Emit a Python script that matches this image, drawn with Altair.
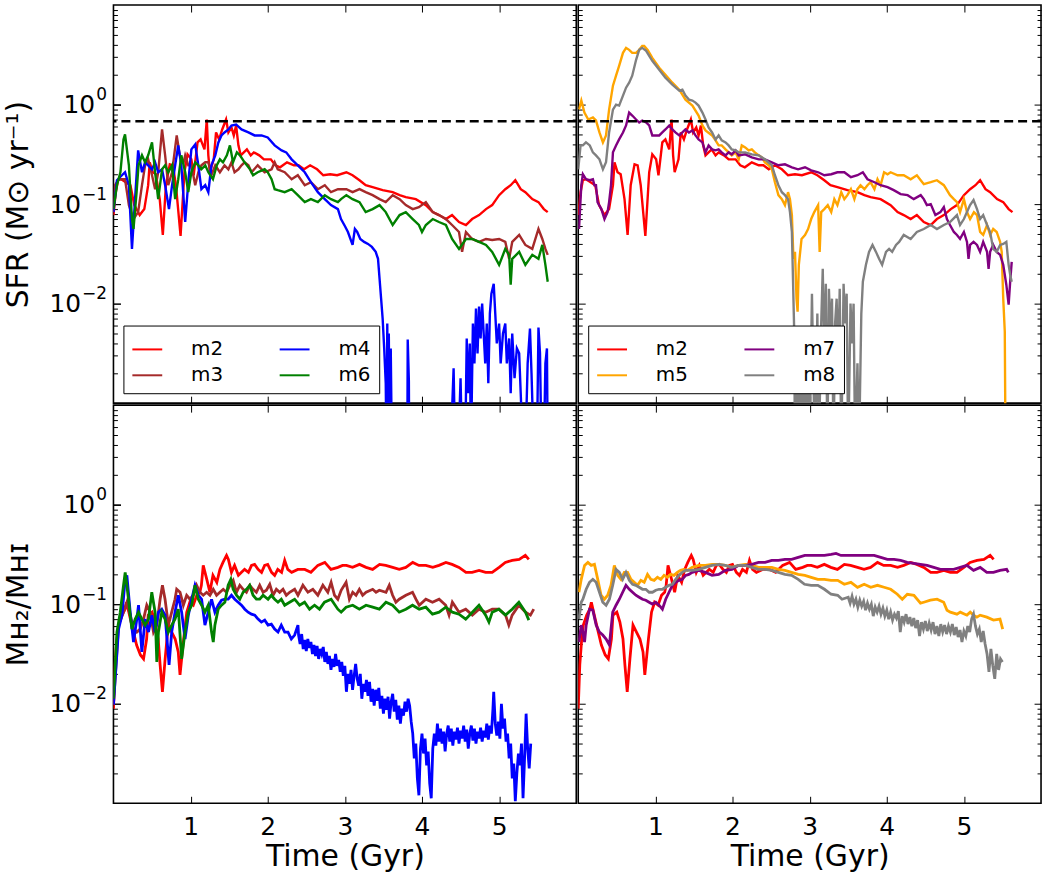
import altair as alt
import pandas as pd

# ---------------------------------------------------------------------------
# Values: (time [Gyr], log10 of the plotted quantity)
# ---------------------------------------------------------------------------
m2_sfr_log = [(0.00,-1.11),(0.03,-0.88),(0.06,-0.76),(0.10,-0.75),(0.16,-0.78),(0.22,-0.81),(0.27,-1.01),(0.34,-1.11),(0.40,-1.05),(0.45,-0.81),(0.47,-0.58),(0.51,-0.68),(0.55,-0.70),(0.60,-0.95),(0.64,-1.31),(0.68,-0.81),(0.73,-0.60),(0.77,-0.61),(0.81,-0.81),(0.87,-1.32),(0.92,-0.68),(0.96,-0.50),(1.01,-0.55),(1.04,-0.71),(1.09,-0.38),(1.13,-0.35),(1.18,-0.45),(1.21,-0.15),(1.23,-0.51),(1.25,-0.68),(1.30,-0.55),(1.33,-0.28),(1.37,-0.35),(1.41,-0.25),(1.46,-0.15),(1.49,-0.28),(1.53,-0.23),(1.56,-0.31),(1.59,-0.21),(1.62,-0.41),(1.65,-0.51),(1.69,-0.48),(1.73,-0.45),(1.78,-0.51),(1.82,-0.48),(1.89,-0.51),(1.95,-0.55),(2.04,-0.55),(2.10,-0.61),(2.16,-0.63),(2.25,-0.58),(2.34,-0.61),(2.40,-0.61),(2.47,-0.65),(2.55,-0.61),(2.64,-0.65),(2.72,-0.71),(2.81,-0.70),(2.90,-0.71),(3.02,-0.68),(3.10,-0.71),(3.19,-0.76),(3.27,-0.81),(3.36,-0.83),(3.49,-0.86),(3.62,-0.88),(3.71,-0.91),(3.79,-0.93),(3.92,-0.95),(4.05,-1.01),(4.14,-1.08),(4.22,-1.11),(4.31,-1.15),(4.39,-1.11),(4.48,-1.18),(4.57,-1.21),(4.65,-1.15),(4.74,-1.11),(4.83,-1.05),(4.91,-1.01),(5.00,-0.91),(5.08,-0.85),(5.15,-0.81),(5.21,-0.76),(5.28,-0.85),(5.34,-0.88),(5.43,-0.95),(5.51,-0.98),(5.58,-1.05),(5.63,-1.08)]

m3_sfr_log = [(0.00,-1.08),(0.02,-0.81),(0.07,-0.75),(0.15,-0.75),(0.20,-1.01),(0.26,-1.15),(0.32,-1.08),(0.37,-0.81),(0.41,-0.61),(0.45,-0.55),(0.50,-0.71),(0.54,-0.85),(0.58,-0.68),(0.63,-0.25),(0.67,-0.51),(0.71,-0.81),(0.76,-0.68),(0.82,-0.31),(0.86,-0.51),(0.91,-0.58),(0.93,-0.51),(0.97,-0.61),(1.01,-0.61),(1.06,-0.81),(1.10,-0.68),(1.14,-0.61),(1.19,-0.58),(1.23,-0.58),(1.27,-0.71),(1.32,-0.61),(1.38,-0.68),(1.44,-0.61),(1.49,-0.65),(1.53,-0.58),(1.57,-0.68),(1.62,-0.65),(1.66,-0.61),(1.70,-0.58),(1.75,-0.61),(1.79,-0.68),(1.87,-0.61),(1.96,-0.68),(2.05,-0.65),(2.09,-0.58),(2.13,-0.65),(2.22,-0.68),(2.31,-0.75),(2.39,-0.71),(2.48,-0.81),(2.56,-0.78),(2.65,-0.85),(2.74,-0.81),(2.82,-0.88),(2.91,-0.85),(3.02,-0.85),(3.10,-0.88),(3.19,-0.85),(3.27,-0.88),(3.36,-0.91),(3.45,-0.95),(3.53,-0.98),(3.62,-0.91),(3.71,-0.95),(3.79,-1.01),(3.88,-1.05),(3.96,-1.03),(4.05,-0.98),(4.14,-1.08),(4.22,-1.11),(4.31,-1.15),(4.39,-1.21),(4.48,-1.28),(4.52,-1.48),(4.57,-1.28),(4.65,-1.35),(4.74,-1.38),(4.83,-1.35),(4.91,-1.36),(5.00,-1.35),(5.08,-1.38),(5.13,-1.55),(5.17,-1.38),(5.26,-1.31),(5.34,-1.41),(5.43,-1.45),(5.51,-1.25),(5.56,-1.35),(5.60,-1.45),(5.63,-1.51)]

m4_sfr_log = [(0.00,-1.08),(0.045,-0.76),(0.11,-0.71),(0.15,-0.68),(0.20,-0.81),(0.24,-1.45),(0.28,-0.95),(0.32,-0.46),(0.37,-0.68),(0.41,-0.58),(0.45,-0.61),(0.50,-0.65),(0.54,-0.58),(0.58,-0.68),(0.63,-0.65),(0.67,-0.81),(0.72,-1.05),(0.76,-0.81),(0.80,-0.61),(0.84,-0.41),(0.88,-0.61),(0.93,-1.18),(0.97,-0.78),(1.01,-0.45),(1.06,-0.40),(1.10,-0.61),(1.14,-0.85),(1.19,-0.81),(1.23,-0.88),(1.27,-0.61),(1.32,-0.51),(1.36,-0.38),(1.40,-0.31),(1.44,-0.28),(1.49,-0.25),(1.53,-0.21),(1.59,-0.20),(1.66,-0.25),(1.75,-0.28),(1.83,-0.31),(1.92,-0.31),(2.00,-0.33),(2.09,-0.41),(2.18,-0.46),(2.24,-0.48),(2.31,-0.55),(2.39,-0.61),(2.48,-0.68),(2.56,-0.78),(2.65,-0.88),(2.74,-0.95),(2.82,-1.01),(2.91,-1.05),(2.95,-1.15),(3.00,-1.22),(3.04,-1.28),(3.10,-1.41),(3.13,-1.25),(3.16,-1.28),(3.20,-1.35),(3.25,-1.38),(3.30,-1.40),(3.35,-1.43),(3.40,-1.48),(3.43,-1.55),(3.45,-1.75),(3.47,-1.95),(3.49,-2.15),(3.51,-2.45),(3.53,-2.80),(3.54,-3.50),(3.55,-2.20),(3.56,-3.50),(3.57,-2.30),(3.58,-3.50),(3.595,-2.45),(3.61,-3.50),(3.81,-3.50),(3.815,-2.36),(3.83,-2.78),(3.835,-3.50),(4.37,-3.50),(4.41,-2.65),(4.43,-3.50),(4.47,-3.50),(4.50,-2.75),(4.52,-3.50),(4.56,-3.50),(4.58,-2.35),(4.60,-2.90),(4.62,-2.40),(4.635,-3.50),(4.66,-2.20),(4.68,-2.60),(4.70,-2.05),(4.72,-2.50),(4.74,-2.03),(4.76,-2.35),(4.78,-2.00),(4.80,-2.30),(4.82,-2.60),(4.84,-2.20),(4.86,-2.80),(4.88,-2.10),(4.90,-1.90),(4.93,-1.80),(4.95,-2.10),(4.97,-2.40),(5.00,-2.20),(5.02,-2.60),(5.05,-2.30),(5.08,-2.20),(5.10,-2.60),(5.13,-2.35),(5.15,-2.90),(5.17,-2.30),(5.20,-2.75),(5.23,-2.45),(5.26,-2.50),(5.28,-2.90),(5.31,-3.50),(5.34,-3.50),(5.37,-2.60),(5.40,-2.25),(5.42,-2.70),(5.45,-3.50),(5.49,-3.50),(5.51,-2.24),(5.53,-2.50),(5.55,-3.50),(5.58,-3.50),(5.60,-2.60),(5.62,-2.45),(5.63,-3.50)]

m6_sfr_log = [(0.00,-1.05),(0.045,-0.81),(0.09,-0.68),(0.13,-0.35),(0.15,-0.30),(0.20,-0.61),(0.24,-1.15),(0.26,-1.25),(0.30,-0.88),(0.325,-0.61),(0.37,-0.51),(0.41,-0.58),(0.45,-0.51),(0.50,-0.38),(0.54,-0.68),(0.58,-0.95),(0.63,-0.65),(0.67,-0.61),(0.71,-0.68),(0.76,-0.61),(0.80,-0.95),(0.84,-0.75),(0.88,-0.51),(0.93,-0.68),(0.97,-0.88),(1.01,-0.68),(1.06,-0.58),(1.10,-0.61),(1.14,-0.65),(1.19,-0.61),(1.23,-0.68),(1.29,-0.75),(1.34,-0.61),(1.38,-0.55),(1.42,-0.58),(1.47,-0.51),(1.51,-0.41),(1.55,-0.58),(1.60,-0.48),(1.64,-0.51),(1.70,-0.58),(1.77,-0.65),(1.81,-0.71),(1.87,-0.68),(1.96,-0.65),(2.00,-0.68),(2.05,-0.75),(2.09,-0.85),(2.13,-0.86),(2.22,-0.88),(2.31,-0.85),(2.39,-0.91),(2.48,-0.98),(2.56,-0.95),(2.65,-0.98),(2.74,-0.91),(2.82,-0.95),(2.91,-0.98),(2.95,-0.95),(3.02,-0.91),(3.10,-0.95),(3.19,-0.98),(3.27,-1.08),(3.36,-1.05),(3.45,-1.01),(3.53,-1.08),(3.62,-1.21),(3.71,-1.11),(3.79,-1.08),(3.88,-1.15),(3.96,-1.21),(4.00,-1.28),(4.05,-1.21),(4.14,-1.15),(4.22,-1.18),(4.31,-1.21),(4.39,-1.35),(4.48,-1.45),(4.57,-1.35),(4.65,-1.35),(4.74,-1.38),(4.83,-1.41),(4.91,-1.48),(5.00,-1.61),(5.08,-1.45),(5.13,-1.51),(5.15,-1.81),(5.17,-1.55),(5.26,-1.48),(5.34,-1.61),(5.43,-1.51),(5.51,-1.55),(5.56,-1.41),(5.60,-1.61),(5.63,-1.78)]

m5_sfr_log = [(0.01,-0.05),(0.04,0.04),(0.08,-0.08),(0.13,-0.15),(0.19,-0.13),(0.23,-0.16),(0.275,-0.28),(0.32,-0.38),(0.36,-0.31),(0.40,-0.05),(0.45,0.19),(0.49,0.29),(0.53,0.39),(0.58,0.52),(0.62,0.57),(0.66,0.55),(0.70,0.52),(0.75,0.52),(0.79,0.55),(0.83,0.59),(0.855,0.59),(0.90,0.55),(0.96,0.47),(1.05,0.37),(1.13,0.30),(1.22,0.22),(1.31,0.15),(1.39,0.05),(1.48,-0.01),(1.56,-0.11),(1.61,-0.21),(1.65,-0.26),(1.735,-0.31),(1.78,-0.36),(1.82,-0.41),(1.86,-0.41),(1.91,-0.45),(1.95,-0.48),(1.99,-0.51),(2.04,-0.48),(2.08,-0.55),(2.12,-0.41),(2.165,-0.43),(2.21,-0.46),(2.25,-0.45),(2.29,-0.48),(2.34,-0.51),(2.38,-0.53),(2.42,-0.58),(2.47,-0.61),(2.51,-0.65),(2.55,-0.78),(2.595,-0.91),(2.64,-0.95),(2.68,-1.01),(2.72,-0.88),(2.745,-0.95),(2.77,-1.11),(2.79,-1.55),(2.81,-1.48),(2.83,-1.95),(2.844,-2.08),(2.86,-1.61),(2.895,-1.35),(2.94,-1.31),(2.98,-1.25),(3.02,-1.15),(3.06,-1.08),(3.11,-1.01),(3.13,-1.48),(3.15,-1.08),(3.19,-1.05),(3.235,-1.01),(3.28,-1.08),(3.32,-0.95),(3.36,-1.01),(3.41,-0.88),(3.45,-0.95),(3.49,-0.91),(3.535,-0.85),(3.58,-0.95),(3.62,-0.85),(3.66,-0.81),(3.71,-0.85),(3.75,-0.81),(3.79,-0.78),(3.84,-0.85),(3.88,-0.75),(3.92,-0.81),(3.965,-0.68),(4.01,-0.70),(4.05,-0.68),(4.14,-0.71),(4.22,-0.71),(4.31,-0.75),(4.39,-0.71),(4.44,-0.76),(4.48,-0.80),(4.57,-0.78),(4.65,-0.76),(4.74,-0.81),(4.82,-0.91),(4.87,-0.95),(4.91,-0.98),(4.95,-1.08),(5.00,-0.95),(5.04,-1.08),(5.08,-1.15),(5.13,-1.08),(5.17,-1.11),(5.21,-1.28),(5.25,-1.31),(5.30,-1.21),(5.34,-1.31),(5.38,-1.25),(5.425,-1.28),(5.47,-1.38),(5.49,-1.48),(5.51,-1.95),(5.53,-2.28),(5.54,-3.50),(5.60,-3.50)]

m7_sfr_log = [(0.01,-1.25),(0.04,-0.81),(0.06,-0.70),(0.10,-0.75),(0.15,-0.76),(0.19,-0.75),(0.21,-0.81),(0.23,-0.81),(0.25,-0.98),(0.30,-1.05),(0.34,-1.15),(0.38,-1.08),(0.40,-0.98),(0.425,-0.81),(0.45,-0.48),(0.49,-0.41),(0.53,-0.35),(0.58,-0.28),(0.62,-0.21),(0.66,-0.08),(0.70,-0.11),(0.75,-0.15),(0.79,-0.18),(0.83,-0.16),(0.88,-0.18),(0.92,-0.21),(0.96,-0.31),(1.005,-0.31),(1.05,-0.31),(1.09,-0.28),(1.13,-0.25),(1.18,-0.21),(1.22,-0.25),(1.26,-0.28),(1.31,-0.31),(1.35,-0.28),(1.39,-0.25),(1.435,-0.28),(1.48,-0.26),(1.52,-0.31),(1.56,-0.35),(1.61,-0.38),(1.65,-0.48),(1.69,-0.41),(1.735,-0.45),(1.78,-0.46),(1.82,-0.45),(1.86,-0.48),(1.91,-0.51),(1.95,-0.48),(1.99,-0.50),(2.04,-0.46),(2.08,-0.51),(2.165,-0.50),(2.25,-0.53),(2.34,-0.55),(2.42,-0.55),(2.51,-0.58),(2.595,-0.61),(2.68,-0.60),(2.77,-0.63),(2.85,-0.65),(2.94,-0.63),(3.02,-0.66),(3.11,-0.68),(3.19,-0.71),(3.28,-0.70),(3.36,-0.68),(3.45,-0.68),(3.535,-0.73),(3.62,-0.71),(3.69,-0.68),(3.75,-0.75),(3.84,-0.78),(3.92,-0.81),(4.01,-0.83),(4.09,-0.86),(4.18,-0.90),(4.27,-0.91),(4.35,-0.95),(4.44,-0.91),(4.48,-0.95),(4.52,-1.01),(4.57,-1.00),(4.63,-1.11),(4.695,-1.08),(4.74,-1.03),(4.78,-1.15),(4.82,-1.21),(4.87,-1.28),(4.91,-1.31),(4.95,-1.35),(5.00,-1.28),(5.04,-1.38),(5.06,-1.55),(5.08,-1.41),(5.125,-1.38),(5.17,-1.41),(5.21,-1.48),(5.25,-1.38),(5.30,-1.48),(5.32,-1.65),(5.34,-1.48),(5.38,-1.41),(5.425,-1.48),(5.47,-1.51),(5.51,-1.61),(5.55,-1.81),(5.58,-2.01),(5.60,-1.78),(5.62,-1.58)]

m8_sfr_log = [(0.00,-0.65),(0.03,-0.41),(0.06,-0.41),(0.10,-0.38),(0.15,-0.41),(0.19,-0.48),(0.23,-0.51),(0.275,-0.55),(0.32,-0.65),(0.36,-0.58),(0.40,-0.28),(0.45,-0.05),(0.49,0.00),(0.53,-0.01),(0.58,0.09),(0.62,0.17),(0.66,0.22),(0.70,0.29),(0.75,0.45),(0.79,0.55),(0.83,0.57),(0.88,0.54),(0.92,0.49),(0.96,0.44),(1.05,0.35),(1.13,0.27),(1.22,0.20),(1.31,0.14),(1.35,0.15),(1.39,0.09),(1.435,0.05),(1.48,0.04),(1.52,0.02),(1.56,-0.01),(1.61,-0.08),(1.65,-0.15),(1.69,-0.23),(1.735,-0.28),(1.78,-0.35),(1.82,-0.31),(1.86,-0.36),(1.91,-0.38),(1.95,-0.41),(1.99,-0.45),(2.04,-0.46),(2.08,-0.48),(2.165,-0.48),(2.25,-0.50),(2.34,-0.51),(2.42,-0.55),(2.51,-0.61),(2.55,-0.71),(2.595,-0.81),(2.64,-0.88),(2.68,-0.91),(2.72,-0.95),(2.745,-1.08),(2.77,-1.28),(2.79,-1.95),(2.80,-2.28),(2.81,-3.50),(2.84,-2.40),(2.86,-3.50),(2.88,-2.60),(2.90,-3.50),(2.93,-2.30),(2.95,-3.50),(2.98,-2.50),(3.00,-3.50),(3.03,-1.90),(3.05,-2.80),(3.07,-3.50),(3.10,-2.10),(3.12,-3.50),(3.15,-2.20),(3.17,-1.65),(3.19,-2.50),(3.21,-1.80),(3.23,-3.50),(3.25,-1.85),(3.27,-2.30),(3.29,-1.95),(3.31,-3.50),(3.33,-2.20),(3.35,-1.95),(3.37,-2.60),(3.39,-1.85),(3.41,-3.50),(3.44,-1.80),(3.46,-2.20),(3.48,-1.90),(3.50,-3.50),(3.53,-2.00),(3.55,-2.40),(3.57,-2.00),(3.59,-3.50),(3.62,-2.60),(3.64,-3.50),(3.67,-2.10),(3.69,-1.78),(3.73,-1.61),(3.77,-1.48),(3.815,-1.41),(3.86,-1.48),(3.90,-1.55),(3.94,-1.61),(3.99,-1.48),(4.03,-1.45),(4.07,-1.48),(4.12,-1.41),(4.16,-1.38),(4.22,-1.31),(4.31,-1.35),(4.39,-1.28),(4.48,-1.25),(4.57,-1.21),(4.65,-1.25),(4.74,-1.21),(4.82,-1.18),(4.91,-1.11),(4.95,-1.21),(5.00,-1.15),(5.04,-1.08),(5.08,-1.01),(5.125,-0.96),(5.17,-1.05),(5.21,-1.15),(5.25,-1.11),(5.30,-1.21),(5.34,-1.28),(5.38,-1.45),(5.425,-1.48),(5.47,-1.41),(5.51,-1.40),(5.55,-1.38),(5.58,-1.61),(5.60,-1.71),(5.62,-1.78)]

m2_h2_log = [(0.00,-2.05),(0.02,-1.61),(0.045,-1.35),(0.066,-1.21),(0.11,-1.11),(0.15,-1.05),(0.17,-0.98),(0.22,-1.15),(0.26,-1.28),(0.30,-1.41),(0.35,-1.51),(0.39,-1.55),(0.43,-1.35),(0.45,-1.11),(0.50,-1.08),(0.54,-1.18),(0.58,-1.35),(0.605,-1.61),(0.635,-1.88),(0.67,-1.55),(0.71,-1.21),(0.755,-1.28),(0.80,-1.35),(0.84,-1.48),(0.863,-1.71),(0.91,-1.35),(0.95,-1.08),(0.99,-0.98),(1.035,-1.01),(1.08,-0.91),(1.12,-0.88),(1.14,-0.81),(1.164,-0.61),(1.21,-0.75),(1.25,-0.88),(1.29,-0.71),(1.34,-0.78),(1.38,-0.65),(1.42,-0.58),(1.466,-0.51),(1.49,-0.55),(1.53,-0.68),(1.57,-0.61),(1.62,-0.71),(1.66,-0.68),(1.70,-0.65),(1.75,-0.68),(1.79,-0.61),(1.83,-0.60),(1.875,-0.65),(1.92,-0.68),(1.96,-0.61),(2.00,-0.60),(2.05,-0.68),(2.09,-0.71),(2.13,-0.65),(2.18,-0.68),(2.22,-0.56),(2.26,-0.65),(2.31,-0.68),(2.39,-0.65),(2.48,-0.65),(2.56,-0.68),(2.65,-0.61),(2.74,-0.58),(2.82,-0.65),(2.91,-0.63),(2.97,-0.61),(3.02,-0.61),(3.10,-0.63),(3.19,-0.60),(3.275,-0.63),(3.36,-0.65),(3.45,-0.60),(3.53,-0.61),(3.62,-0.63),(3.705,-0.65),(3.79,-0.63),(3.88,-0.58),(3.96,-0.61),(4.05,-0.61),(4.14,-0.63),(4.22,-0.61),(4.31,-0.58),(4.39,-0.60),(4.48,-0.63),(4.57,-0.68),(4.65,-0.68),(4.74,-0.66),(4.825,-0.68),(4.91,-0.68),(5.00,-0.63),(5.08,-0.58),(5.17,-0.56),(5.26,-0.55),(5.34,-0.51),(5.385,-0.55)]

m3_h2_log = [(0.00,-2.01),(0.066,-1.21),(0.13,-1.08),(0.174,-0.98),(0.217,-1.11),(0.26,-1.25),(0.303,-1.28),(0.346,-1.25),(0.39,-1.15),(0.432,-1.01),(0.476,-1.08),(0.519,-1.28),(0.562,-1.21),(0.605,-0.95),(0.635,-0.81),(0.669,-0.95),(0.712,-1.21),(0.755,-1.08),(0.798,-0.95),(0.82,-0.85),(0.863,-0.88),(0.906,-1.01),(0.949,-0.91),(0.992,-0.95),(1.035,-0.91),(1.078,-0.81),(1.121,-0.88),(1.164,-0.91),(1.208,-0.88),(1.251,-0.91),(1.294,-0.85),(1.337,-0.91),(1.38,-0.88),(1.423,-0.85),(1.466,-0.88),(1.509,-0.81),(1.552,-0.76),(1.595,-0.88),(1.638,-0.81),(1.681,-0.85),(1.724,-0.88),(1.767,-0.81),(1.81,-0.85),(1.853,-0.88),(1.896,-0.81),(1.94,-0.88),(1.983,-0.86),(2.026,-0.80),(2.069,-0.91),(2.112,-0.85),(2.155,-0.88),(2.198,-0.85),(2.241,-0.91),(2.284,-0.88),(2.349,-0.85),(2.392,-0.91),(2.456,-0.81),(2.521,-0.88),(2.585,-0.85),(2.65,-0.91),(2.715,-0.81),(2.779,-0.88),(2.822,-0.78),(2.866,-0.91),(2.909,-0.95),(2.952,-0.86),(3.016,-0.78),(3.059,-0.95),(3.102,-0.88),(3.145,-0.91),(3.188,-0.85),(3.231,-0.91),(3.275,-0.88),(3.361,-0.85),(3.404,-0.88),(3.447,-0.86),(3.533,-0.88),(3.576,-0.81),(3.619,-0.91),(3.662,-0.98),(3.705,-0.95),(3.791,-0.91),(3.877,-0.88),(3.921,-0.95),(3.964,-1.01),(4.05,-0.95),(4.136,-0.98),(4.222,-0.95),(4.308,-1.01),(4.351,-1.11),(4.394,-0.98),(4.48,-1.08),(4.567,-1.05),(4.653,-1.11),(4.739,-1.05),(4.825,-1.08),(4.911,-1.05),(4.997,-1.05),(5.083,-1.11),(5.126,-1.21),(5.169,-1.11),(5.256,-1.01),(5.342,-1.08),(5.406,-1.11),(5.449,-1.05)]

m4_h2_log = [(0.00,-2.01),(0.066,-1.25),(0.11,-1.11),(0.152,-0.75),(0.174,-0.71),(0.217,-1.08),(0.26,-1.38),(0.303,-1.15),(0.325,-1.01),(0.368,-1.48),(0.411,-1.15),(0.454,-1.28),(0.497,-1.11),(0.54,-1.28),(0.583,-1.08),(0.626,-1.05),(0.669,-1.11),(0.721,-1.61),(0.755,-1.28),(0.798,-1.08),(0.841,-0.91),(0.884,-1.08),(0.928,-1.35),(0.971,-1.11),(1.014,-0.95),(1.057,-0.81),(1.10,-0.91),(1.143,-0.95),(1.186,-1.21),(1.229,-1.08),(1.272,-0.95),(1.315,-1.08),(1.358,-1.01),(1.401,-0.96),(1.444,-0.95),(1.487,-0.95),(1.53,-0.91),(1.573,-0.95),(1.617,-0.98),(1.66,-1.01),(1.703,-1.05),(1.746,-1.08),(1.789,-1.10),(1.832,-1.11),(1.875,-1.15),(1.918,-1.18),(1.961,-1.16),(2.004,-1.21),(2.047,-1.20),(2.09,-1.25),(2.133,-1.28),(2.176,-1.21),(2.22,-1.28),(2.263,-1.28),(2.306,-1.35),(2.349,-1.31),(2.392,-1.21),
              (2.40,-1.31),(2.42,-1.40),(2.44,-1.30),(2.46,-1.45),(2.48,-1.36),(2.50,-1.47),(2.52,-1.35),(2.54,-1.44),(2.56,-1.38),(2.58,-1.50),(2.60,-1.41),(2.62,-1.52),(2.64,-1.42),(2.66,-1.55),(2.68,-1.45),(2.70,-1.50),(2.72,-1.43),(2.74,-1.58),(2.76,-1.48),(2.78,-1.60),(2.80,-1.52),(2.82,-1.66),(2.84,-1.55),(2.86,-1.63),(2.88,-1.50),(2.90,-1.62),(2.92,-1.56),(2.94,-1.68),(2.96,-1.58),(2.98,-1.72),(3.00,-1.62),(3.02,-1.88),(3.04,-1.70),(3.06,-1.80),(3.08,-1.66),(3.10,-1.86),(3.12,-1.72),(3.14,-1.60),(3.16,-1.75),(3.18,-1.82),(3.20,-1.70),(3.22,-1.95),(3.24,-1.80),(3.26,-1.88),(3.28,-1.76),(3.30,-1.92),(3.32,-1.78),(3.34,-1.98),(3.36,-1.85),(3.38,-2.02),(3.40,-1.86),(3.42,-1.97),(3.44,-1.84),(3.46,-2.05),(3.48,-1.92),(3.50,-2.10),(3.52,-1.95),(3.54,-2.06),(3.56,-1.93),(3.58,-2.15),(3.60,-1.98),(3.62,-1.90),(3.64,-2.08),(3.66,-1.96),(3.68,-2.16),(3.70,-2.02),(3.72,-2.20),(3.74,-2.05),(3.76,-2.12),(3.78,-1.98),(3.80,-2.08),(3.82,-1.95),(3.84,-2.02),(3.86,-2.18),(3.88,-2.30),(3.90,-2.55),(3.92,-2.40),(3.94,-2.75),(3.96,-2.92),(3.98,-2.45),(4.00,-2.30),(4.02,-2.50),(4.04,-2.35),(4.06,-2.62),(4.08,-2.48),(4.10,-2.80),(4.12,-2.95),(4.14,-2.45),(4.16,-2.30),(4.18,-2.42),(4.20,-2.20),(4.22,-2.38),(4.24,-2.25),(4.26,-2.40),(4.28,-2.28),(4.30,-2.48),(4.32,-2.30),(4.34,-2.22),(4.36,-2.38),(4.38,-2.25),(4.40,-2.42),(4.42,-2.28),(4.44,-2.36),(4.46,-2.24),(4.48,-2.40),(4.50,-2.27),(4.52,-2.35),(4.54,-2.22),(4.56,-2.38),(4.58,-2.26),(4.60,-2.45),(4.62,-2.30),(4.64,-2.22),(4.66,-2.37),(4.68,-2.25),(4.70,-2.40),(4.72,-2.28),(4.74,-2.35),(4.76,-2.24),(4.78,-2.38),(4.80,-2.27),(4.82,-2.34),(4.84,-2.20),(4.86,-2.36),(4.88,-2.22),(4.90,-2.30),(4.92,-2.05),(4.93,-1.88),(4.95,-2.20),(4.97,-2.32),(4.99,-2.18),(5.01,-2.35),(5.03,-2.00),(5.05,-2.25),(5.07,-2.15),(5.09,-2.38),(5.11,-2.30),(5.13,-2.55),(5.15,-2.40),(5.17,-2.75),(5.19,-2.60),(5.21,-2.98),(5.23,-2.70),(5.25,-2.50),(5.27,-2.62),(5.29,-2.40),(5.31,-2.95),(5.33,-2.55),(5.35,-2.10),(5.37,-2.45),(5.39,-2.65),(5.41,-2.40)]

m6_h2_log = [(0.00,-1.95),(0.045,-1.28),(0.088,-1.08),(0.13,-0.81),(0.152,-0.68),(0.174,-0.81),(0.217,-1.11),(0.239,-1.25),(0.282,-1.15),(0.325,-1.08),(0.368,-1.15),(0.411,-1.21),(0.454,-1.15),(0.497,-0.88),(0.54,-1.08),(0.562,-1.58),(0.583,-1.28),(0.626,-1.08),(0.669,-1.15),(0.712,-1.28),(0.755,-1.21),(0.798,-1.15),(0.841,-1.05),(0.884,-1.55),(0.928,-1.28),(0.971,-1.08),(1.014,-1.01),(1.057,-0.81),(1.10,-0.95),(1.143,-1.01),(1.186,-1.08),(1.229,-1.01),(1.272,-1.28),(1.294,-1.38),(1.315,-1.21),(1.358,-1.05),(1.401,-1.01),(1.444,-0.98),(1.487,-0.81),(1.522,-0.75),(1.552,-0.85),(1.595,-0.91),(1.638,-0.95),(1.681,-0.88),(1.724,-0.85),(1.767,-0.81),(1.81,-0.91),(1.853,-0.95),(1.896,-0.95),(1.94,-0.91),(2.004,-0.95),(2.047,-0.91),(2.09,-0.95),(2.133,-0.98),(2.176,-0.95),(2.22,-1.01),(2.284,-0.98),(2.349,-0.95),(2.413,-1.01),(2.478,-0.98),(2.542,-1.05),(2.607,-1.01),(2.671,-1.05),(2.736,-0.98),(2.822,-0.95),(2.909,-1.05),(2.952,-1.08),(3.016,-1.03),(3.102,-1.01),(3.188,-1.05),(3.275,-1.01),(3.361,-1.03),(3.447,-1.05),(3.533,-0.98),(3.619,-1.01),(3.705,-1.08),(3.791,-1.05),(3.877,-1.01),(3.964,-1.05),(4.05,-1.03),(4.136,-1.10),(4.222,-1.08),(4.308,-1.03),(4.394,-1.08),(4.48,-1.10),(4.567,-1.15),(4.653,-1.08),(4.739,-1.01),(4.825,-1.11),(4.868,-1.18),(4.911,-1.08),(4.997,-1.05),(5.083,-1.11),(5.169,-1.05),(5.256,-0.98),(5.342,-1.08),(5.385,-1.16)]

m5_h2_log = [(0.009,-0.88),(0.039,-0.75),(0.082,-0.61),(0.125,-0.58),(0.168,-0.61),(0.21,-0.60),(0.253,-0.75),(0.296,-0.91),(0.339,-0.95),(0.382,-0.91),(0.425,-0.81),(0.468,-0.61),(0.511,-0.71),(0.554,-0.75),(0.597,-0.68),(0.64,-0.68),(0.683,-0.75),(0.726,-0.78),(0.769,-0.81),(0.812,-0.76),(0.855,-0.78),(0.898,-0.70),(0.941,-0.75),(0.984,-0.76),(1.027,-0.73),(1.07,-0.75),(1.113,-0.71),(1.155,-0.73),(1.198,-0.70),(1.241,-0.71),(1.284,-0.68),(1.327,-0.66),(1.37,-0.65),(1.413,-0.66),(1.478,-0.63),(1.564,-0.61),(1.649,-0.61),(1.735,-0.60),(1.821,-0.60),(1.907,-0.61),(1.993,-0.63),(2.079,-0.61),(2.165,-0.60),(2.251,-0.61),(2.337,-0.63),(2.423,-0.63),(2.509,-0.63),(2.595,-0.65),(2.68,-0.66),(2.766,-0.68),(2.852,-0.70),(2.938,-0.71),(3.02,-0.73),(3.106,-0.75),(3.192,-0.75),(3.278,-0.76),(3.364,-0.76),(3.449,-0.80),(3.535,-0.78),(3.621,-0.83),(3.707,-0.80),(3.793,-0.83),(3.879,-0.81),(3.965,-0.83),(4.051,-0.85),(4.137,-0.90),(4.201,-0.95),(4.266,-0.90),(4.352,-0.91),(4.437,-0.99),(4.48,-0.98),(4.566,-0.96),(4.652,-0.95),(4.738,-0.98),(4.781,-1.06),(4.824,-1.08),(4.91,-1.10),(4.953,-1.08),(5.039,-1.11),(5.082,-1.08),(5.125,-1.11),(5.168,-1.13),(5.211,-1.11),(5.297,-1.13),(5.383,-1.16),(5.468,-1.15),(5.503,-1.25)]

m7_h2_log = [(0.009,-1.38),(0.039,-1.21),(0.06,-1.28),(0.082,-1.38),(0.103,-1.21),(0.146,-1.05),(0.189,-1.06),(0.232,-1.21),(0.275,-1.28),(0.318,-1.31),(0.361,-1.35),(0.404,-1.41),(0.447,-1.08),(0.49,-1.01),(0.533,-0.95),(0.576,-0.88),(0.619,-0.81),(0.662,-0.85),(0.704,-0.88),(0.747,-0.91),(0.79,-0.93),(0.833,-0.95),(0.876,-0.96),(0.919,-0.98),(0.962,-1.00),(1.005,-0.98),(1.048,-1.01),(1.091,-1.05),(1.134,-0.95),(1.177,-0.88),(1.22,-0.81),(1.263,-0.78),(1.306,-0.76),(1.349,-0.75),(1.392,-0.71),(1.435,-0.70),(1.478,-0.68),(1.564,-0.66),(1.649,-0.68),(1.735,-0.71),(1.821,-0.70),(1.907,-0.66),(1.993,-0.65),(2.079,-0.61),(2.165,-0.61),(2.251,-0.60),(2.337,-0.58),(2.423,-0.58),(2.509,-0.56),(2.595,-0.56),(2.68,-0.55),(2.766,-0.55),(2.852,-0.53),(2.938,-0.51),(3.02,-0.51),(3.106,-0.51),(3.192,-0.51),(3.278,-0.50),(3.342,-0.49),(3.407,-0.51),(3.492,-0.51),(3.578,-0.51),(3.664,-0.51),(3.75,-0.51),(3.836,-0.51),(3.922,-0.53),(4.008,-0.55),(4.094,-0.55),(4.18,-0.56),(4.266,-0.58),(4.352,-0.59),(4.437,-0.60),(4.523,-0.61),(4.609,-0.63),(4.695,-0.65),(4.781,-0.65),(4.867,-0.65),(4.953,-0.63),(5.039,-0.61),(5.125,-0.66),(5.211,-0.63),(5.297,-0.68),(5.383,-0.68),(5.468,-0.66),(5.554,-0.65),(5.576,-0.68)]

m8_h2_log = [(0.009,-1.15),(0.039,-0.98),(0.06,-0.95),(0.103,-0.85),(0.146,-0.78),(0.189,-0.75),(0.232,-0.78),(0.275,-0.88),(0.318,-0.98),(0.361,-1.01),(0.404,-0.95),(0.447,-0.81),(0.49,-0.65),(0.533,-0.68),(0.576,-0.75),(0.619,-0.68),(0.662,-0.76),(0.704,-0.80),(0.747,-0.81),(0.79,-0.83),(0.833,-0.85),(0.876,-0.85),(0.919,-0.88),(0.962,-0.88),(1.005,-0.86),(1.048,-0.85),(1.091,-0.85),(1.134,-0.83),(1.177,-0.81),(1.22,-0.80),(1.263,-0.75),(1.306,-0.71),(1.349,-0.68),(1.392,-0.66),(1.478,-0.66),(1.564,-0.65),(1.649,-0.63),(1.735,-0.61),(1.821,-0.60),(1.907,-0.61),(1.993,-0.63),(2.079,-0.61),(2.165,-0.61),(2.251,-0.63),(2.337,-0.65),(2.423,-0.65),(2.509,-0.66),(2.595,-0.68),(2.68,-0.70),(2.766,-0.71),(2.852,-0.75),(2.934,-0.80),(3.02,-0.81),(3.106,-0.81),(3.192,-0.85),(3.278,-0.90),(3.364,-0.91),(3.42,-0.95),
              (3.50,-0.93),(3.525,-0.99),(3.55,-0.92),(3.575,-1.00),(3.60,-0.95),(3.625,-1.03),(3.65,-0.96),(3.675,-1.02),(3.70,-0.97),(3.725,-1.06),(3.75,-0.99),(3.775,-1.05),(3.80,-1.00),(3.825,-1.12),(3.85,-1.03),(3.875,-1.08),(3.90,-1.02),(3.925,-1.10),(3.95,-1.04),(3.975,-1.12),(4.00,-1.06),(4.025,-1.15),(4.05,-1.08),(4.075,-1.16),(4.10,-1.10),(4.125,-1.14),(4.15,-1.07),(4.175,-1.28),(4.20,-1.12),(4.225,-1.18),(4.25,-1.10),(4.275,-1.20),(4.30,-1.13),(4.325,-1.22),(4.35,-1.14),(4.375,-1.24),(4.40,-1.16),(4.425,-1.32),(4.45,-1.18),(4.475,-1.25),(4.50,-1.17),(4.525,-1.27),(4.55,-1.19),(4.575,-1.26),(4.60,-1.18),(4.625,-1.30),(4.65,-1.22),(4.675,-1.32),(4.70,-1.20),(4.725,-1.28),(4.75,-1.21),(4.775,-1.30),(4.80,-1.22),(4.825,-1.28),(4.85,-1.20),(4.875,-1.31),(4.90,-1.23),(4.925,-1.33),(4.95,-1.26),(4.975,-1.38),(5.00,-1.27),(5.025,-1.32),(5.05,-1.22),(5.075,-1.28),(5.10,-1.15),(5.125,-1.10),(5.15,-1.22),(5.175,-1.30),(5.20,-1.25),(5.225,-1.38),(5.25,-1.27),(5.275,-1.40),(5.30,-1.50),(5.325,-1.68),(5.35,-1.45),(5.375,-1.62),(5.40,-1.75),(5.425,-1.50),(5.45,-1.66),(5.475,-1.55),(5.50,-1.58)]

SFR_THRESHOLD = 0.68           # dashed horizontal line in the upper panels
X_TICKS = [1, 2, 3, 4, 5]
Y_MAJOR = [0.01, 0.1, 1.0]
Y_MINOR = [k * 10.0 ** e for e in (-3, -2, -1, 0) for k in range(2, 10)]

COLORS = {"m2": "#ff0000", "m3": "#a52a2a", "m4": "#0000ff", "m6": "#008000",
          "m5": "#ffa500", "m7": "#800080", "m8": "#808080"}

FONT = "DejaVu Sans"
PW, PH = 465, 400
TICK_FS = 25
EXP_FS = 17


def to_frame(items):
    rows = []
    for name, pairs in items:
        for t, lv in pairs:
            rows.append({"t": t, "v": 10.0 ** lv, "series": name})
    return pd.DataFrame(rows)


X_SCALE = alt.Scale(domain=[0, 6], nice=False, zero=False)
Y_SCALE = alt.Scale(type="log", domain=[0.001, 10], nice=False)

TEN_NEG_EXPR = "datum.value < 0.2 ? '10' : ''"
EXP_EXPR = ("datum.value > 0.5 ? '0' : "
            "datum.value > 0.05 ? '\u22121' : '\u22122'")


def yaxis(orient, values, size, **kw):
    return alt.Axis(orient=orient, values=values, offset=-size, tickSize=size,
                    domain=False, grid=False, labelOverlap=False,
                    tickColor="black", labelColor="black", **kw)


def panel(items, legend_domain, show_x, show_y, y_title, top):
    df = to_frame(items)
    legend_range = [COLORS[s] for s in legend_domain]
    if top:
        legend = alt.Legend(orient="bottom-left", columns=2, title=None,
                            labelFontSize=20, labelFont=FONT, labelColor="black",
                            symbolType="stroke", symbolSize=900, symbolStrokeWidth=2,
                            labelOffset=28, columnPadding=52, rowPadding=0,
                            padding=8, offset=10, strokeColor="black",
                            fillColor="white", cornerRadius=0)
        color = alt.Color("series:N", scale=alt.Scale(domain=legend_domain, range=legend_range),
                          legend=legend)
    else:
        color = alt.Color("series:N", scale=alt.Scale(domain=legend_domain, range=legend_range),
                          legend=None)

    x_bottom = alt.Axis(orient="bottom", values=X_TICKS, offset=-7, tickSize=7,
                        domain=False, grid=False, labels=show_x, labelFontSize=TICK_FS,
                        labelFontWeight="normal", labelPadding=11,
                        tickColor="black", labelColor="black", titleColor="black",
                        title="Time (Gyr)" if show_x else None,
                        titleFontSize=30, titleFontWeight="normal", titlePadding=3)
    x_top = alt.Axis(orient="top", values=X_TICKS, offset=-7, tickSize=7,
                     domain=False, grid=False, labels=False, title=None,
                     tickColor="black")
    if show_y:
        y_left = yaxis("left", Y_MAJOR, 7, labels=True, labelExpr=TEN_NEG_EXPR,
                       labelFontSize=TICK_FS, labelFontWeight="normal", labelPadding=33,
                       title=y_title, titleFontSize=30, titleFontWeight="normal",
                       titleColor="black", titlePadding=16)
    else:
        y_left = yaxis("left", Y_MAJOR, 7, labels=False, title=None)
    y_right = yaxis("right", Y_MAJOR, 7, labels=False, title=None)
    y_left_minor = yaxis("left", Y_MINOR, 4, labels=False, title=None)
    y_right_minor = yaxis("right", Y_MINOR, 4, labels=False, title=None)

    base = alt.Chart(df)
    lines = base.mark_line(strokeWidth=2.4 if top else 2.8, clip=True).encode(
        x=alt.X("t:Q", scale=X_SCALE, axis=x_bottom),
        y=alt.Y("v:Q", scale=Y_SCALE, axis=y_left),
        color=color,
    )

    def ghost(xaxis, yax):
        return base.mark_point(opacity=0, clip=True).encode(
            x=alt.X("t:Q", scale=X_SCALE, axis=xaxis),
            y=alt.Y("v:Q", scale=Y_SCALE, axis=yax),
        )

    layers = [lines, ghost(x_top, y_right), ghost(None, y_left_minor),
              ghost(None, y_right_minor)]
    if show_y:
        ten_zero = yaxis("left", [1.0], 7, labels=True, labelExpr="'10'",
                         labelFontSize=TICK_FS, labelFontWeight="normal",
                         labelPadding=19, title=None)
        exponents = yaxis("left", Y_MAJOR, 7, labels=True, labelExpr=EXP_EXPR,
                          labelFontSize=EXP_FS, labelFontWeight="normal",
                          labelPadding=7, labelOffset=-10, title=None)
        layers += [ghost(None, ten_zero), ghost(None, exponents)]
    if top:
        rule = alt.Chart(pd.DataFrame({"v": [SFR_THRESHOLD]})).mark_rule(
            color="black", strokeWidth=2.5, strokeDash=[9, 5], clip=True
        ).encode(y=alt.Y("v:Q", scale=Y_SCALE, axis=None))
        layers.append(rule)
    return alt.layer(*layers).resolve_axis(x="independent", y="independent").properties(
        width=PW, height=PH)


sfr_title = "SFR (M\u2299 yr\u207b\u00b9)"
h2_title = "M\u029c\u2082/M\u029c\u026a"

tl = panel([("m2", m2_sfr_log), ("m3", m3_sfr_log), ("m4", m4_sfr_log), ("m6", m6_sfr_log)],
           ["m2", "m3", "m4", "m6"], False, True, sfr_title, True)
tr = panel([("m2", m2_sfr_log), ("m5", m5_sfr_log), ("m7", m7_sfr_log), ("m8", m8_sfr_log)],
           ["m2", "m5", "m7", "m8"], False, False, None, True)
bl = panel([("m2", m2_h2_log), ("m3", m3_h2_log), ("m4", m4_h2_log), ("m6", m6_h2_log)],
           ["m2", "m3", "m4", "m6"], True, True, h2_title, False)
br = panel([("m2", m2_h2_log), ("m5", m5_h2_log), ("m7", m7_h2_log), ("m8", m8_h2_log)],
           ["m2", "m5", "m7", "m8"], True, False, None, False)

chart = (
    alt.concat(tl, tr, bl, br, columns=2, spacing=-2)
    .resolve_scale(color="independent")
    .resolve_legend(color="independent")
    .properties(padding={"left": 2, "top": 1, "right": 5, "bottom": 0},
                background="white")
    .configure_view(stroke="black", strokeWidth=1.6)
    .configure_axis(labelFont=FONT, titleFont=FONT, labelColor="black",
                    titleColor="black", tickColor="black", tickWidth=1,
                    titleFontWeight="normal", labelFontWeight="normal",
                    minExtent=0)
)

chart.save("out.html", embed_options={"renderer": "svg", "actions": False})
